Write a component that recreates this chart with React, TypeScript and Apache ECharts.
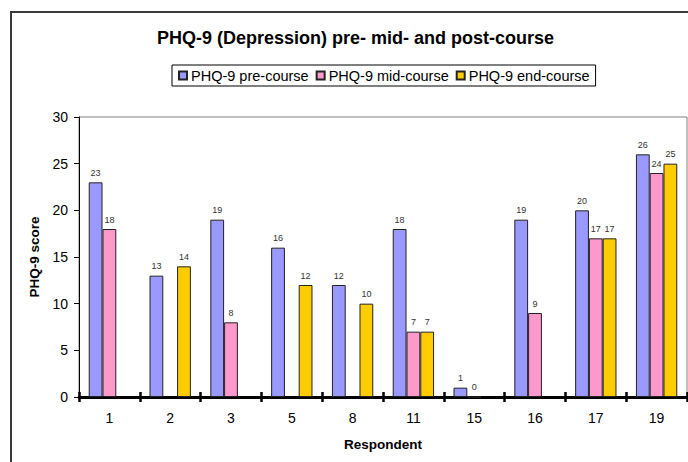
import React, { useEffect, useRef } from "react";
import * as echarts from "echarts";

const categories = ["1", "2", "3", "5", "8", "11", "15", "16", "17", "19"];
const preCourse = [23, 13, 19, 16, 12, 18, 1, 19, 20, 26];
const midCourse = [18, null, 8, null, null, 7, 0, 9, 17, 24];
const endCourse = [null, 14, null, 12, 10, 7, null, null, 17, 25];
const seriesNames = ["PHQ-9 pre-course", "PHQ-9 mid-course", "PHQ-9 end-course"];
const seriesColors = ["#9999FF", "#FF99CC", "#FFCC00"];

export default function App() {
  const ref = useRef<HTMLDivElement>(null);
  useEffect(() => {
    if (!ref.current) return;
    const chart = echarts.init(ref.current, null, { renderer: "svg" });
    const font = "Arial, 'Liberation Sans', sans-serif";
    const mk = (name: string, data: (number | null)[], color: string) => ({
      name,
      type: "bar",
      data,
      barGap: "0%",
      barCategoryGap: "32%",
      itemStyle: { color, borderColor: "#222", borderWidth: 1 },
      label: {
        show: true,
        position: "top",
        distance: 5,
        fontSize: 9,
        color: "#333",
        fontFamily: font,
      },
    });
    chart.setOption({
      animation: false,
      backgroundColor: "#fff",
      graphic: [
        {
          type: "rect",
          shape: { x: 11, y: 12, width: 720, height: 500 },
          style: { fill: "none", stroke: "#3a3a3a", lineWidth: 2 },
          z: 100,
        },
      ],
      title: {
        text: "PHQ-9 (Depression) pre- mid- and post-course",
        left: 157,
        top: 29,
        padding: 0,
        textStyle: { fontSize: 18, fontWeight: "bold", color: "#000", fontFamily: font },
      },
      legend: {
        left: 172,
        top: 65,
        padding: [3, 6, 3, 6],
        itemGap: 7,
        itemWidth: 8,
        itemHeight: 8,
        icon: "rect",
        borderColor: "#000",
        borderWidth: 1,
        textStyle: { fontSize: 14.5, color: "#000", fontFamily: font, padding: [0, 0, 0, -1] },
        data: seriesNames,
      },
      grid: {
        left: 79,
        top: 117,
        right: 1,
        bottom: 65,
        show: true,
        borderColor: "#808080",
        borderWidth: 1,
      },
      xAxis: [
        {
          type: "category",
          data: categories,
          position: "bottom",
          name: "Respondent",
          nameLocation: "middle",
          nameGap: 40,
          nameTextStyle: { fontSize: 13.5, fontWeight: "bold", color: "#000", fontFamily: font },
          axisLine: { lineStyle: { color: "#000", width: 3 } },
          axisTick: { show: true, interval: 0, length: 5, lineStyle: { color: "#000", width: 2.5 } },
          axisLabel: { fontSize: 14, color: "#000", margin: 14, fontFamily: font, interval: 0 },
        },
        {
          type: "category",
          data: categories,
          position: "bottom",
          axisLine: { show: false },
          axisTick: { show: true, inside: true, interval: 0, length: 5, lineStyle: { color: "#000", width: 2.5 } },
          axisLabel: { show: false },
        },
      ],
      yAxis: {
        type: "value",
        min: 0,
        max: 30,
        interval: 5,
        name: "PHQ-9 score",
        nameLocation: "middle",
        nameGap: 37,
        nameTextStyle: { fontSize: 13.5, fontWeight: "bold", color: "#000", fontFamily: font },
        axisLine: { show: true, lineStyle: { color: "#000", width: 1 } },
        axisTick: { show: true, length: 5, lineStyle: { color: "#000" } },
        axisLabel: { fontSize: 14, color: "#000", margin: 11, fontFamily: font },
        splitLine: { show: false },
      },
      series: [
        mk(seriesNames[0], preCourse, seriesColors[0]),
        mk(seriesNames[1], midCourse, seriesColors[1]),
        mk(seriesNames[2], endCourse, seriesColors[2]),
      ],
    });
    return () => chart.dispose();
  }, []);
  return (
    <div
      ref={ref}
      style={{ position: "fixed", left: 0, top: 0, width: 688, height: 462 }}
    />
  );
}
